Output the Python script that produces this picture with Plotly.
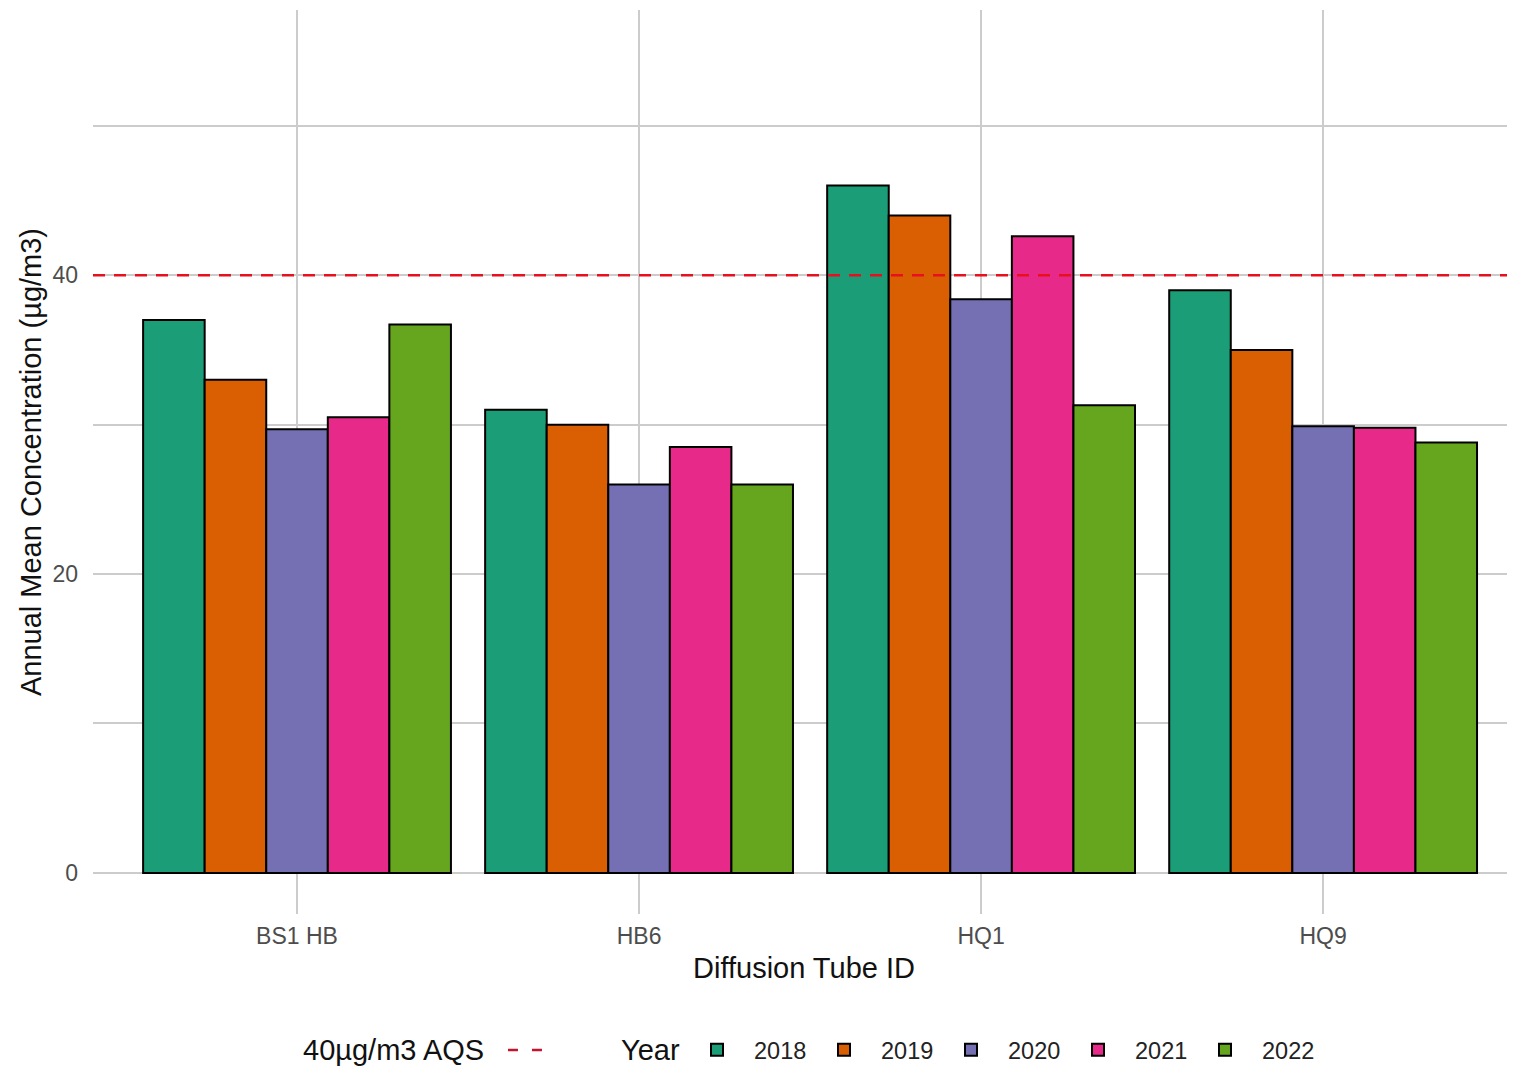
import plotly.graph_objects as go

# Annual mean NO2 at each diffusion tube, by year
tube_ids = ["BS1 HB", "HB6", "HQ1", "HQ9"]
years = ["2018", "2019", "2020", "2021", "2022"]

conc_2018 = [37.0, 31.0, 46.0, 39.0]
conc_2019 = [33.0, 30.0, 44.0, 35.0]
conc_2020 = [29.7, 26.0, 38.4, 29.9]
conc_2021 = [30.5, 28.5, 42.6, 29.8]
conc_2022 = [36.7, 26.0, 31.3, 28.8]

aqs_limit = 40

year_values = [conc_2018, conc_2019, conc_2020, conc_2021, conc_2022]
year_colors = ["#1B9E77", "#D95F02", "#7570B3", "#E7298A", "#66A61E"]

fig = go.Figure()

# one bar trace per year (Dark2 palette, black outlines)
for yr, vals, col in zip(years, year_values, year_colors):
    fig.add_trace(go.Bar(x=tube_ids, y=vals, name=yr,
                         marker=dict(color=col, line=dict(color="black", width=2)),
                         legend="legend2"))

# AQS objective line across the whole panel
fig.add_hline(y=aqs_limit, line=dict(color="#E8101E", width=2.5, dash="12px,9px"),
              layer="above")

# dummy trace just to get the dashed key in the first legend
fig.add_trace(go.Scatter(x=[None], y=[None], mode="lines", name=" ",
                         line=dict(color="#C4122F", width=2.5, dash="10px,14px"),
                         legend="legend"))

grid_col = "#CCCCCC"
title_font = dict(size=29, color="#111111")

# page body adds ~8px, so the figure is a bit smaller than the window
fig.update_layout(
    width=1507, height=1064,
    margin=dict(l=85, r=0, t=2, b=158),
    plot_bgcolor="white", paper_bgcolor="white",
    font=dict(family="Liberation Sans, Arial, sans-serif", color="#222222"),
    barmode="group", bargap=0.1, bargroupgap=0,
    xaxis=dict(
        range=[-0.5965, 3.561],
        showgrid=True, gridcolor=grid_col, gridwidth=1.5,
        showline=False, zeroline=False, ticks="",
        tickfont=dict(size=23, color="#4D4D4D"), ticklabelstandoff=6,
        title=dict(text="Diffusion Tube ID", font=title_font, standoff=9),
    ),
    yaxis=dict(
        range=[-2.75, 57.75],
        tickvals=[0, 20, 40],
        showgrid=True, gridcolor=grid_col, gridwidth=1.5,
        minor=dict(tickvals=[10, 30, 50], showgrid=True, gridcolor=grid_col,
                   gridwidth=1.5, ticks=""),
        showline=False, zeroline=False, ticks="",
        tickfont=dict(size=23, color="#4D4D4D"), ticklabelstandoff=14,
        title=dict(text="Annual Mean Concentration (µg/m3)", font=title_font,
                   standoff=2),
    ),
    legend=dict(
        orientation="h", x=0.2883, xanchor="left", y=-0.1504, yanchor="middle",
        font=dict(size=23), bgcolor="rgba(0,0,0,0)", itemwidth=36,
    ),
    legend2=dict(
        orientation="h", x=0.4128, xanchor="left", y=-0.1504, yanchor="middle",
        font=dict(size=23.5, color="#222222"), bgcolor="rgba(0,0,0,0)",
        entrywidth=48, entrywidthmode="pixels", itemwidth=64,
    ),
    showlegend=True,
)

# legend titles sit on the same line as the keys
fig.add_annotation(text="40µg/m3 AQS", xref="paper", yref="paper",
                   x=0.1463, y=-0.1504, xanchor="left", yanchor="middle",
                   showarrow=False, font=title_font)
fig.add_annotation(text="Year", xref="paper", yref="paper",
                   x=0.3699, y=-0.1504, xanchor="left", yanchor="middle",
                   showarrow=False, font=title_font)

fig.write_html("out.html")
